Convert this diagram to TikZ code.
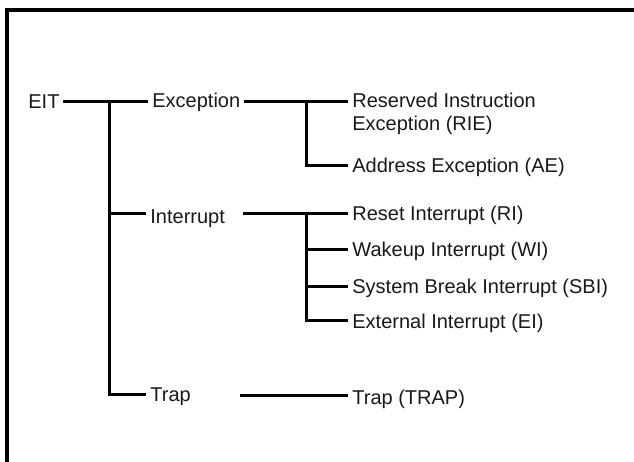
\documentclass[tikz,border=0pt]{standalone}
\usepackage{fontspec}
\setmainfont{Liberation Sans}
\begin{document}
\begin{tikzpicture}[x=0.5pt, y=-0.5pt,
  lbl/.style={anchor=west, inner xsep=2.5pt, inner ysep=0pt, text height=0.75em, text depth=0.25em, font=\fontsize{10}{11.5}\selectfont, text=black!90},
  br/.style={line width=1.5pt, line cap=rect},
  frame/.style={line width=1.6pt}]
\useasboundingbox (0,0) rectangle (634,462);
\draw[frame] (7,462) -- (7,10) -- (634,10);
% first level
\node[lbl] (eit) at (23,103) {EIT};
\node[lbl] (exc) at (147,102) {Exception};
\node[lbl] (intr) at (145,218) {Interrupt};
\node[lbl] (trap) at (145,396) {Trap};
% second level
\node[lbl, align=left] (rie) at (347,125) {Reserved Instruction\\Exception (RIE)};
\node[lbl] (ae) at (347,167) {Address Exception (AE)};
\node[lbl] (ri) at (347,215) {Reset Interrupt (RI)};
\node[lbl] (wi) at (347,251) {Wakeup Interrupt (WI)};
\node[lbl] (sbi) at (347,288) {System Break Interrupt (SBI)};
\node[lbl] (ei) at (347,323) {External Interrupt (EI)};
\node[lbl] (trp) at (347,399) {Trap (TRAP)};
% junctions
\coordinate (j0) at (110,101);
\coordinate (j1) at (307,101);
\coordinate (j2) at (307,213);
\coordinate (i0) at (245,213);
\coordinate (t0) at (242,395);
\draw[br] (eit.east |- j0) -- (exc.west |- j0);
\draw[br] (j0) |- (trap.west |- 0,394);
\draw[br] (j0 |- i0) -- (intr.west |- i0);
\draw[br] (exc.east |- j1) -- (rie.west |- j1);
\draw[br] (j1) |- (ae.west |- 0,165);
\draw[br] (i0) -- (ri.west |- i0);
\draw[br] (j2) |- (ei.west |- 0,320);
\draw[br] (j2 |- 0,249) -- (wi.west |- 0,249);
\draw[br] (j2 |- 0,286) -- (sbi.west |- 0,286);
\draw[br] (t0) -- (trp.west |- t0);
\end{tikzpicture}
\end{document}
